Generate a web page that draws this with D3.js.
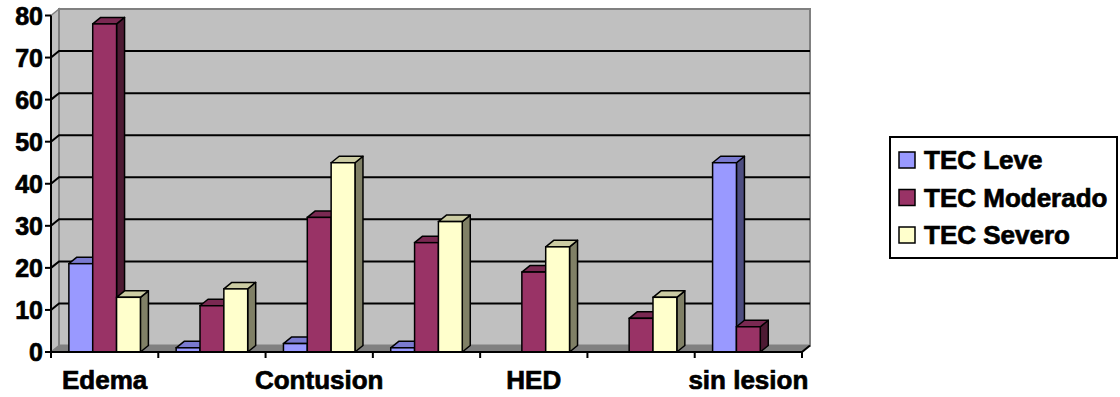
<!DOCTYPE html>
<html>
<head>
<meta charset="utf-8">
<script src="https://cdn.jsdelivr.net/npm/d3@7/dist/d3.min.js"></script>
<style>
  html, body { margin: 0; padding: 0; background: #ffffff; }
  svg { display: block; }
</style>
</head>
<body>
<svg id="chart" width="1120" height="397"></svg>
<script>
// Category axis: only every other group carries a printed label
const categoryLabels = ["Edema", "", "Contusion", "", "HED", "", "sin lesion"];
const seriesNames = ["TEC Leve", "TEC Moderado", "TEC Severo"];
const tecLeve     = [21, 1, 2, 1, 0, 0, 45];
const tecModerado = [78, 11, 32, 26, 19, 8, 6];
const tecSevero   = [13, 15, 45, 31, 25, 13, 0];
const yTicks = [0, 10, 20, 30, 40, 50, 60, 70, 80];

const seriesValues = [tecLeve, tecModerado, tecSevero];
const faceColors = [
  { front: "#9999ff", top: "#7a7ad0", side: "#4d4d80" },
  { front: "#993366", top: "#7a2952", side: "#4d1a33" },
  { front: "#ffffcc", top: "#cccca3", side: "#808066" }
];

const FONT = "'Liberation Sans', Arial, sans-serif";
const svg = d3.select("#chart");

// heavy bold lettering used throughout
const styleText = (sel, size) => sel
  .attr("font-family", FONT).attr("font-weight", 700).attr("font-size", size)
  .attr("fill", "#000").attr("stroke", "#000").attr("stroke-width", 0.7);

// Plot frame (front plane) and 3-D depth offset
const plotLeft = 51, plotRight = 802, plotBottom = 352, plotTop = 15.5;
const dx = 8, dy = -6.5;

const y = d3.scaleLinear().domain([0, 80]).range([plotBottom, plotTop]);
const x = d3.scaleBand().domain(d3.range(categoryLabels.length)).range([plotLeft, plotRight]).padding(0);
const xs = d3.scaleBand().domain(d3.range(seriesNames.length)).range([0, x.bandwidth()])
  .paddingInner(0).paddingOuter(0.75);

const pts = a => a.map(p => p.join(",")).join(" ");

// Walls and floor
svg.append("polygon") // left side wall
  .attr("points", pts([[plotLeft, y(80)], [plotLeft + dx, y(80) + dy], [plotLeft + dx, plotBottom + dy], [plotLeft, plotBottom]]))
  .attr("fill", "#c0c0c0").attr("stroke", "#808080").attr("stroke-width", 1.5);
svg.append("rect") // back wall
  .attr("x", plotLeft + dx).attr("y", y(80) + dy)
  .attr("width", plotRight - plotLeft).attr("height", plotBottom - y(80))
  .attr("fill", "#c0c0c0").attr("stroke", "#808080").attr("stroke-width", 2);
svg.append("polygon") // floor
  .attr("points", pts([[plotLeft, plotBottom], [plotRight, plotBottom], [plotRight + dx, plotBottom + dy], [plotLeft + dx, plotBottom + dy]]))
  .attr("fill", "#808080");

// Gridlines across the side wall and back wall
const gridVals = yTicks.filter(v => v > 0 && v < 80);
svg.append("g").selectAll("polyline").data(gridVals).join("polyline")
  .attr("points", v => pts([[plotLeft, y(v)], [plotLeft + dx, y(v) + dy], [plotRight + dx, y(v) + dy]]))
  .attr("fill", "none").attr("stroke", "#000").attr("stroke-width", 2);

// Bars (front, top and side faces), drawn left to right
const barW = xs.bandwidth();
const bars = [];
categoryLabels.forEach((_, ci) => {
  seriesValues.forEach((vals, si) => {
    if (vals[ci] > 0) bars.push({ ci, si, v: vals[ci] });
  });
});
const barG = svg.append("g").selectAll("g").data(bars).join("g");
barG.each(function (d) {
  const g = d3.select(this);
  const x0 = x(d.ci) + xs(d.si), x1 = x0 + barW, yt = y(d.v);
  const c = faceColors[d.si];
  g.append("polygon")
    .attr("points", pts([[x1, yt], [x1 + dx, yt + dy], [x1 + dx, plotBottom + dy], [x1, plotBottom]]))
    .attr("fill", c.side).attr("stroke", "#000").attr("stroke-width", 1.5).attr("stroke-linejoin", "round");
  g.append("polygon")
    .attr("points", pts([[x0, yt], [x0 + dx, yt + dy], [x1 + dx, yt + dy], [x1, yt]]))
    .attr("fill", c.top).attr("stroke", "#000").attr("stroke-width", 1.5).attr("stroke-linejoin", "round");
  g.append("rect")
    .attr("x", x0).attr("y", yt).attr("width", barW).attr("height", plotBottom - yt)
    .attr("fill", c.front).attr("stroke", "#000").attr("stroke-width", 1.5);
});

// Value axis
const yAxis = svg.append("g");
yAxis.append("line").attr("x1", plotLeft).attr("x2", plotLeft).attr("y1", y(80)).attr("y2", plotBottom)
  .attr("stroke", "#000").attr("stroke-width", 2);
yAxis.selectAll("line.tick").data(yTicks).join("line").attr("class", "tick")
  .attr("x1", plotLeft - 6).attr("x2", plotLeft).attr("y1", d => y(d)).attr("y2", d => y(d))
  .attr("stroke", "#000").attr("stroke-width", 2);
yAxis.selectAll("text").data(yTicks).join("text")
  .attr("x", 43).attr("y", d => y(d))
  .attr("text-anchor", "end").attr("dy", "0.36em")
  .call(styleText, 25)
  .text(d => d);

// Category axis
const xAxis = svg.append("g");
xAxis.append("line").attr("x1", plotLeft).attr("x2", plotRight).attr("y1", plotBottom).attr("y2", plotBottom)
  .attr("stroke", "#000").attr("stroke-width", 2);
xAxis.append("line").attr("x1", plotRight).attr("x2", plotRight + dx).attr("y1", plotBottom).attr("y2", plotBottom + dy)
  .attr("stroke", "#000").attr("stroke-width", 2);
const bounds = d3.range(categoryLabels.length + 1).map(i => plotLeft + i * x.step());
xAxis.selectAll("line.tick").data(bounds).join("line").attr("class", "tick")
  .attr("x1", d => d).attr("x2", d => d).attr("y1", plotBottom).attr("y2", plotBottom + 6)
  .attr("stroke", "#000").attr("stroke-width", 2);
xAxis.selectAll("text").data(categoryLabels.map((t, i) => ({ t, i })).filter(d => d.t))
  .join("text")
  .attr("x", d => x(d.i) + x.bandwidth() / 2).attr("y", 389)
  .attr("text-anchor", "middle")
  .call(styleText, 26)
  .text(d => d.t);

// Legend
const legend = svg.append("g");
legend.append("rect").attr("x", 890).attr("y", 137).attr("width", 227).attr("height", 121)
  .attr("fill", "#fff").attr("stroke", "#000").attr("stroke-width", 2);
const rowY = [160, 197.5, 235];
const item = legend.selectAll("g").data(seriesNames).join("g")
  .attr("transform", (d, i) => `translate(0,${rowY[i]})`);
item.append("rect").attr("x", 899).attr("y", -8).attr("width", 16).attr("height", 16)
  .attr("fill", (d, i) => faceColors[i].front).attr("stroke", "#000").attr("stroke-width", 1.5);
item.append("text").attr("x", 924).attr("dy", "0.36em")
  .call(styleText, 26)
  .text(d => d);
</script>
</body>
</html>
